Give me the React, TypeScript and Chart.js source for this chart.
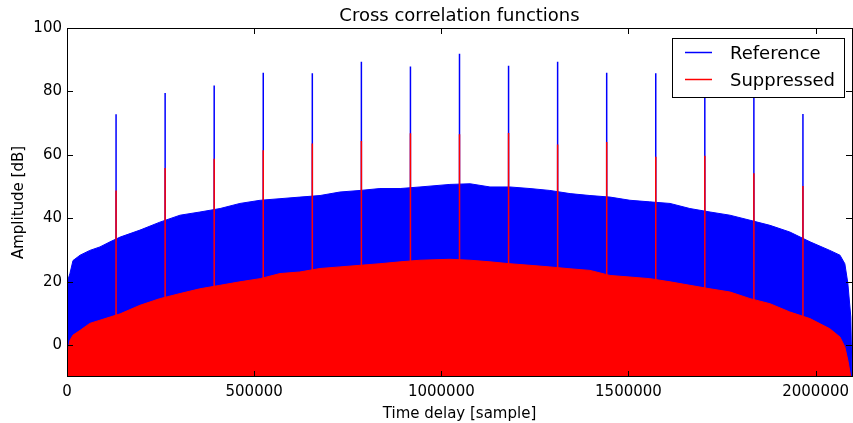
import React, { useEffect, useRef } from "react";
import { Chart, registerables } from "chart.js";

Chart.register(...registerables);

// Envelope sample positions (time delay, samples)
const envX = [0, 2700, 8000, 16000, 35000, 61000, 88000, 115000, 142000, 195000, 248000, 302000, 355000, 409000, 462000, 516000, 569000, 622000, 676000, 729000, 783000, 836000, 890000, 943000, 1023000, 1077000, 1130000, 1183000, 1237000, 1290000, 1344000, 1397000, 1451000, 1504000, 1557000, 1611000, 1664000, 1718000, 1771000, 1825000, 1878000, 1931000, 1985000, 2038000, 2065000, 2078000, 2086000, 2094000, 2097152];
// Upper edge of the noise floor (dB)
const referenceFloor = [17.8, 20.7, 22.7, 26.7, 28.4, 29.9, 31, 32.6, 34.1, 36.3, 38.8, 41, 42, 43.1, 44.7, 45.7, 46.2, 46.7, 47.2, 48.3, 48.8, 49.4, 49.4, 49.9, 50.7, 50.9, 49.9, 49.9, 49.4, 48.8, 47.8, 47.2, 46.7, 45.7, 45.2, 44.7, 43.1, 42, 41, 39.4, 37.8, 35.7, 32.6, 29.9, 28.4, 25.7, 19.6, 8.9, -10];
const suppressedFloor = [-6.9, -1.6, 1.6, 3.2, 4.7, 6.9, 7.9, 8.9, 9.9, 12.6, 14.7, 16.3, 17.8, 18.9, 20, 21, 22.6, 23.1, 24.2, 24.7, 25.2, 25.7, 26.3, 26.8, 27.1, 26.8, 26.3, 25.7, 25.2, 24.7, 24.1, 23.6, 22, 21.5, 21, 20, 18.9, 17.8, 16.8, 14.7, 13.1, 10.5, 8.4, 5.2, 2.6, -0.5, -4.7, -10, -10];

// Correlation peaks
const peakX = [131072, 262144, 393216, 524288, 655360, 786432, 917504, 1048576, 1179648, 1310720, 1441792, 1572864, 1703936, 1835008, 1966080];
const referencePeaks = [72.8, 79.5, 81.9, 85.9, 85.7, 89.4, 87.9, 91.9, 88.1, 89.4, 85.9, 85.7, 82, 79.5, 72.9];
const suppressedPeaks = [48.8, 55.9, 58.8, 61.5, 63.6, 64.4, 66.8, 66.5, 66.9, 63.3, 64.1, 59.4, 59.7, 54.2, 50.2];

const xTicks = [0, 500000, 1000000, 1500000, 2000000];
const yTicks = [0, 20, 40, 60, 80, 100];
const X_MIN = 0;
const X_MAX = 2097152;
const Y_MIN = -10;
const Y_MAX = 100;

const FONT = '"DejaVu Sans", "Liberation Sans", sans-serif';

const BLUE = "#0000ff";
const RED = "#ff0000";

function envelope(vals: number[]) {
  return envX.map((x, i) => ({ x, y: vals[i] }));
}
function spikes(peaks: number[]) {
  const out: { x: number; y: number | null }[] = [];
  peakX.forEach((x, i) => {
    out.push({ x, y: Y_MIN });
    out.push({ x, y: peaks[i] });
    out.push({ x, y: null });
  });
  return out;
}

const decorPlugin = {
  id: "decor",
  afterDraw(chart: any) {
    const { ctx, chartArea: a, scales } = chart;
    const xs = scales.x;
    const ys = scales.y;
    ctx.save();
    ctx.strokeStyle = "#000";
    ctx.lineWidth = 1;
    const TL = 6;
    ctx.beginPath();
    xTicks.forEach((v) => {
      const px = Math.round(xs.getPixelForValue(v)) + 0.5;
      ctx.moveTo(px, a.bottom);
      ctx.lineTo(px, a.bottom - TL);
      ctx.moveTo(px, a.top);
      ctx.lineTo(px, a.top + TL);
    });
    yTicks.forEach((v) => {
      const py = Math.round(ys.getPixelForValue(v)) + 0.5;
      ctx.moveTo(a.left, py);
      ctx.lineTo(a.left + TL, py);
      ctx.moveTo(a.right, py);
      ctx.lineTo(a.right - TL, py);
    });
    ctx.stroke();
    // frame
    ctx.strokeRect(a.left + 0.5, a.top + 0.5, a.right - a.left, a.bottom - a.top - 1);

    // tick labels
    ctx.fillStyle = "#000";
    ctx.font = `15px ${FONT}`;
    ctx.textAlign = "center";
    ctx.textBaseline = "alphabetic";
    xTicks.forEach((v) => {
      ctx.fillText(String(v), xs.getPixelForValue(v), a.bottom + 19);
    });
    ctx.textAlign = "right";
    ctx.textBaseline = "middle";
    yTicks.forEach((v) => {
      ctx.fillText(String(v), a.left - 5, ys.getPixelForValue(v));
    });

    // axis titles
    ctx.textAlign = "center";
    ctx.textBaseline = "alphabetic";
    ctx.fillText("Time delay [sample]", (a.left + a.right) / 2, 418);
    ctx.save();
    ctx.translate(23, (a.top + a.bottom) / 2);
    ctx.rotate(-Math.PI / 2);
    ctx.fillText("Amplitude [dB]", 0, 0);
    ctx.restore();

    // title
    ctx.font = `18px ${FONT}`;
    ctx.fillText("Cross correlation functions", (a.left + a.right) / 2, 21);

    // legend
    const lx = 672.5, ly = 38.5, lw = 172, lh = 59;
    ctx.fillStyle = "#fff";
    ctx.fillRect(lx, ly, lw, lh);
    ctx.strokeStyle = "#000";
    ctx.lineWidth = 1;
    ctx.strokeRect(lx, ly, lw, lh);
    ctx.lineWidth = 1.5;
    ctx.strokeStyle = BLUE;
    ctx.beginPath();
    ctx.moveTo(685, 52.5);
    ctx.lineTo(712, 52.5);
    ctx.stroke();
    ctx.strokeStyle = RED;
    ctx.beginPath();
    ctx.moveTo(685, 79.5);
    ctx.lineTo(712, 79.5);
    ctx.stroke();
    ctx.fillStyle = "#000";
    ctx.font = `18px ${FONT}`;
    ctx.textAlign = "left";
    ctx.fillText("Reference", 730, 58.5);
    ctx.fillText("Suppressed", 730, 85.5);
    ctx.restore();
  },
};

export default function App() {
  const ref = useRef<HTMLCanvasElement | null>(null);
  useEffect(() => {
    if (!ref.current) return;
    const chart = new Chart(ref.current, {
      type: "line",
      data: {
        datasets: [
          {
            label: "Reference",
            data: envelope(referenceFloor),
            borderColor: BLUE,
            backgroundColor: BLUE,
            borderWidth: 1,
            pointRadius: 0,
            fill: "start",
            tension: 0,
            order: 4,
          },
          {
            label: "Reference peaks",
            data: spikes(referencePeaks),
            borderColor: BLUE,
            borderWidth: 1.5,
            pointRadius: 0,
            fill: false,
            spanGaps: false,
            order: 3,
          },
          {
            label: "Suppressed",
            data: envelope(suppressedFloor),
            borderColor: RED,
            backgroundColor: RED,
            borderWidth: 1,
            pointRadius: 0,
            fill: "start",
            tension: 0,
            order: 2,
          },
          {
            label: "Suppressed peaks",
            data: spikes(suppressedPeaks),
            borderColor: RED,
            borderWidth: 1.5,
            pointRadius: 0,
            fill: false,
            spanGaps: false,
            order: 1,
          },
        ] as any,
      },
      options: {
        responsive: false,
        animation: false,
        events: [],
        layout: { padding: { left: 67, right: 1, top: 28, bottom: 46 } },
        plugins: {
          legend: { display: false },
          title: { display: false },
          tooltip: { enabled: false },
        },
        scales: {
          x: { type: "linear", min: X_MIN, max: X_MAX, display: false },
          y: { type: "linear", min: Y_MIN, max: Y_MAX, display: false },
        },
      },
      plugins: [decorPlugin],
    });
    return () => chart.destroy();
  }, []);
  return (
    <div style={{ position: "absolute", left: 0, top: 0, width: 853, height: 423, background: "#fff" }}>
      <canvas ref={ref} width={853} height={423} style={{ display: "block" }} />
    </div>
  );
}
